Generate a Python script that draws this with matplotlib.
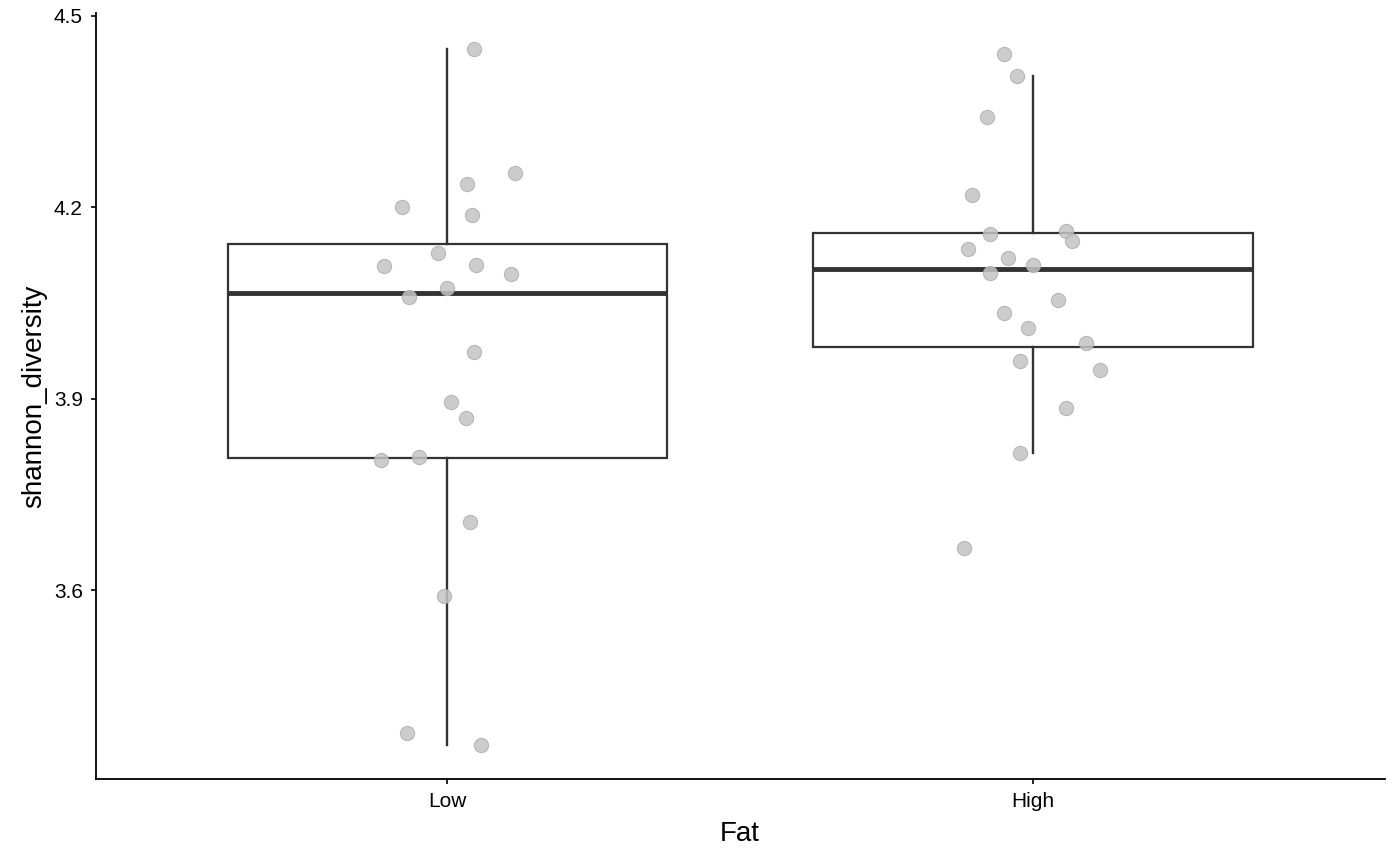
import matplotlib
matplotlib.use("Agg")
import matplotlib.pyplot as plt
import numpy as np

# ---- data ----
categories = ["Low", "High"]
low_values = [4.4478, 4.2543, 4.2366, 4.2005, 4.1880, 4.1284, 4.1080, 4.1091,
              4.0959, 4.0735, 4.0589, 3.9732, 3.8948, 3.8697, 3.8043, 3.8081,
              3.7071, 3.5906, 3.3758, 3.3574]
low_jitter = [0.046, 0.115, 0.034, -0.077, 0.043, -0.016, -0.108, 0.049,
              0.108, -0.001, -0.066, 0.045, 0.007, 0.032, -0.113, -0.048,
              0.038, -0.005, -0.068, 0.058]
high_values = [4.4409, 4.4054, 4.3411, 4.2189, 4.1586, 4.1633, 4.1472, 4.1342,
               4.1210, 4.1091, 4.0966, 4.0547, 4.0348, 4.0113, 3.9877, 3.9590,
               3.9445, 3.8858, 3.8143, 3.6654]
high_jitter = [-0.050, -0.027, -0.078, -0.105, -0.073, 0.056, 0.066, -0.111,
               -0.043, -0.001, -0.073, 0.043, -0.050, -0.008, 0.090, -0.023,
               0.114, 0.056, -0.023, -0.118]
y_ticks = [3.6, 3.9, 4.2, 4.5]
x_title = "Fat"
y_title = "shannon_diversity"

plt.rcParams['font.family'] = ['Liberation Sans', 'DejaVu Sans']

fig = plt.figure(figsize=(14, 8.65), dpi=100)
ax = fig.add_axes([0.0684, 0.0991, 0.9206, 0.8858])

groups = [low_values, high_values]
jitters = [low_jitter, high_jitter]
positions = np.arange(1, len(categories) + 1)

box_col = '#333333'
ax.boxplot(groups, positions=positions, widths=0.75, whis=1.5,
           showfliers=False, showcaps=False, patch_artist=True,
           boxprops=dict(facecolor='white', edgecolor=box_col, linewidth=1.6),
           medianprops=dict(color=box_col, linewidth=3.5, solid_capstyle='butt'),
           whiskerprops=dict(color=box_col, linewidth=1.7),
           zorder=2)

for pos, vals, jit in zip(positions, groups, jitters):
    xs = pos + np.asarray(jit)
    ax.scatter(xs, vals, s=105, facecolor='#C3C3C3', alpha=0.85,
               edgecolors='#B0B0B0', linewidths=0.8, zorder=3)

ax.set_xlim(0.4, 2.6)
ax.set_ylim(3.3034, 4.5046)
ax.set_xticks(positions)
ax.set_xticklabels(categories)
ax.set_yticks(y_ticks)
ax.set_yticklabels([f"{t:.1f}" for t in y_ticks])

for side in ['top', 'right']:
    ax.spines[side].set_visible(False)
for side in ['left', 'bottom']:
    ax.spines[side].set_color('black')
    ax.spines[side].set_linewidth(1.3)

ax.tick_params(axis='both', direction='out', length=3.8, width=1.2,
               color='black', labelcolor='black', labelsize=15, pad=5.5)
ax.set_xlabel(x_title, fontsize=20, color='black', labelpad=7)
ax.set_ylabel(y_title, fontsize=20, color='black', labelpad=5)

fig.savefig("out.png", dpi=100)
